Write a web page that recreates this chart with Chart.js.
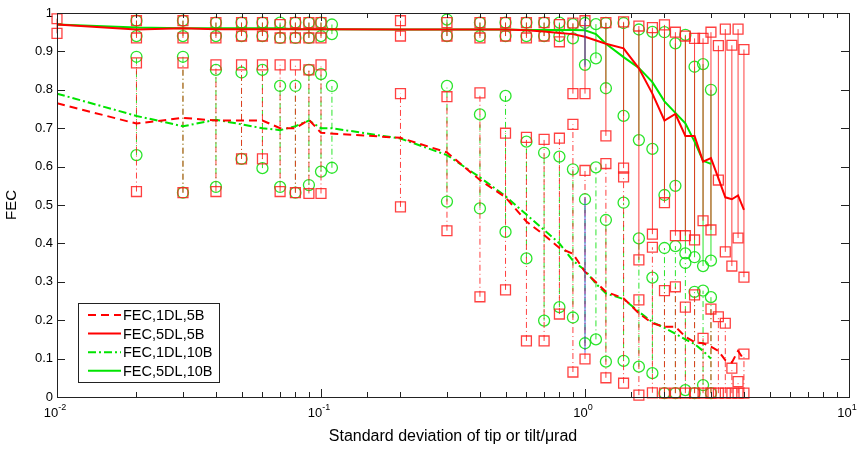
<!DOCTYPE html>
<html>
<head>
<meta charset="utf-8">
<title>FEC vs tip/tilt</title>
<script src="https://cdn.jsdelivr.net/npm/chart.js@4.4.0/dist/chart.umd.min.js"></script>
<style>
  html, body { margin: 0; padding: 0; background: #fff; }
  #wrap { width: 858px; height: 450px; }
</style>
</head>
<body>
<div id="wrap"><canvas id="fec-chart"></canvas></div>
<script>
// x positions (tip/tilt std, urad)
const redX = [0.01, 0.02, 0.03, 0.04, 0.05, 0.06, 0.07, 0.08, 0.09, 0.1,
  0.2, 0.3, 0.4, 0.5, 0.6, 0.7, 0.8, 0.9, 1.0,
  1.2, 1.4, 1.6, 1.8, 2.0, 2.2, 2.4, 2.6, 2.8, 3.0, 3.2, 3.4, 3.6, 3.8, 4.0];
const greenX = [0.01, 0.02, 0.03, 0.04, 0.05, 0.06, 0.07, 0.08, 0.09, 0.1, 0.11,
  0.2, 0.3, 0.4, 0.5, 0.6, 0.7, 0.8, 0.9, 1.0, 1.1,
  1.2, 1.4, 1.6, 1.8, 2.0, 2.2, 2.4, 2.6, 2.8, 3.0];

// mean FEC curves
const red1DLMean = [0.765, 0.712, 0.727, 0.72, 0.72, 0.72, 0.70, 0.70, 0.722, 0.688,
  0.675, 0.637, 0.565, 0.52, 0.457, 0.422, 0.388, 0.373, 0.326,
  0.274, 0.257, 0.218, 0.192, 0.183, 0.183, 0.157, 0.143, 0.14, 0.131, 0.12, 0.096, 0.09, 0.12, 0.097];
const red5DLMean = [0.97, 0.957, 0.96, 0.958, 0.958, 0.958, 0.958, 0.958, 0.958, 0.958,
  0.957, 0.957, 0.957, 0.957, 0.955, 0.952, 0.948, 0.945, 0.938,
  0.92, 0.908, 0.856, 0.79, 0.72, 0.737, 0.68, 0.68, 0.613, 0.622, 0.57, 0.52, 0.515, 0.525, 0.487];
const green1DLMean = [0.79, 0.732, 0.705, 0.722, 0.71, 0.70, 0.695, 0.705, 0.72, 0.70, 0.70,
  0.673, 0.63, 0.572, 0.523, 0.475, 0.435, 0.40, 0.355, 0.33, 0.295,
  0.27, 0.255, 0.222, 0.195, 0.18, 0.165, 0.15, 0.138, 0.12, 0.10];
const green5DLMean = [0.97, 0.962, 0.96, 0.96, 0.96, 0.96, 0.96, 0.958, 0.958, 0.958, 0.958,
  0.957, 0.957, 0.957, 0.957, 0.956, 0.956, 0.956, 0.956, 0.955, 0.945,
  0.92, 0.885, 0.857, 0.82, 0.77, 0.74, 0.713, 0.665, 0.615, 0.607];

// min / max bars
const red1DLMax = [null, 0.87, 0.87, 0.865, 0.865, 0.865, 0.865, 0.865, 0.852, 0.865,
  0.79, 0.782, 0.792, 0.687, 0.676, 0.671, 0.674, 0.71, 0.59,
  0.608, 0.573, 0.253, 0.39, 0.277, 0.287, 0.234, 0.266, 0.153, 0.229, 0.209, 0.192, 0.075, 0.04, 0.112];
const red1DLMin = [null, 0.535, 0.532, 0.535, 0.62, 0.62, 0.535, 0.532, 0.53, 0.53,
  0.495, 0.433, 0.261, 0.279, 0.146, 0.146, 0.216, 0.065, 0.099,
  0.05, 0.036, 0.005, 0.011, 0.01, 0.01, 0.01, 0.01, 0.01, 0.01, 0.01, 0.01, 0.01, 0.01, 0.01];
const red5DLMax = [0.985, 0.98, 0.98, 0.975, 0.975, 0.975, 0.97, 0.975, 0.975, 0.975,
  0.98, 0.975, 0.975, 0.975, 0.975, 0.975, 0.97, 0.974, 0.98,
  0.975, 0.977, 0.966, 0.962, 0.969, 0.95, 0.94, 0.934, 0.934, 0.95, 0.915, 0.958, 0.916, 0.958, 0.905];
const red5DLMin = [0.947, 0.935, 0.935, 0.935, 0.94, 0.94, 0.935, 0.935, 0.935, 0.935,
  0.94, 0.94, 0.935, 0.94, 0.935, 0.94, 0.925, 0.79, 0.79,
  0.68, 0.596, 0.357, 0.424, 0.506, 0.42, 0.42, 0.409, 0.459, 0.435, 0.565, 0.378, 0.341, 0.414, 0.312];
const green1DLMax = [null, 0.886, 0.886, 0.852, 0.845, 0.852, 0.81, 0.81, 0.852, 0.841, 0.81,
  null, 0.81, 0.736, 0.784, 0.665, 0.636, 0.626, 0.593, 0.515, 0.598,
  0.461, 0.506, 0.413, 0.311, 0.388, 0.393, 0.349, 0.274, 0.277, 0.26];
const green1DLMin = [null, 0.63, 0.532, 0.547, 0.62, 0.596, 0.547, 0.532, 0.552, 0.587, 0.597,
  null, 0.509, 0.491, 0.43, 0.361, 0.199, 0.234, 0.207, 0.14, 0.15,
  0.092, 0.094, 0.079, 0.062, 0.01, 0.01, 0.018, 0.01, 0.031, 0.01];
const green5DLMax = [null, 0.98, 0.98, 0.975, 0.975, 0.975, 0.975, 0.975, 0.975, 0.975, 0.97,
  null, 0.983, 0.975, 0.975, 0.975, 0.975, 0.975, 0.971, 0.974, 0.971,
  0.974, 0.974, 0.957, 0.951, 0.95, 0.921, 0.943, 0.86, 0.867, 0.80];
const green5DLMin = [null, 0.94, 0.94, 0.94, 0.94, 0.94, 0.935, 0.935, 0.935, 0.94, 0.945,
  null, 0.94, 0.94, 0.94, 0.94, 0.94, 0.94, 0.934, 0.865, 0.882,
  0.804, 0.732, 0.669, 0.646, 0.526, 0.55, 0.374, 0.364, 0.341, 0.355];

// stray blue segments at x = 1
const blueX = [1.0, 1.0];
const blueLo = [0.86, 0.115];
const blueHi = [0.985, 0.52];

// x tick labels (decades)
const xTickValues = [0.01, 0.1, 1, 10];
const xTickExponents = ['-2', '-1', '0', '1'];

const RED = '#ff0000';
const GREEN = '#00e400';
const FONT = '"Liberation Sans", Arial, sans-serif';

function pairs(xs, ys) {
    return xs.map((x, i) => ({ x: x, y: ys[i] }));
}

// vertical segments lo..hi, separated by gaps
function bars(xs, lo, hi) {
    const pts = [];
    xs.forEach((x, i) => {
        if (lo[i] == null) return;
        pts.push({ x: x, y: lo[i] }, { x: x, y: hi[i] }, { x: x, y: null });
    });
    return pts;
}

function isDecade(v) {
    const l = Math.log10(v);
    return Math.abs(l - Math.round(l)) < 1e-6;
}

function meanLine(label, data, color, dash) {
    return {
        label: label, data: data, borderColor: color, borderWidth: 2,
        borderDash: dash, pointRadius: 0, tension: 0, order: 1
    };
}

function barSet(data, color, dash, style, radius) {
    return {
        label: '', data: data, borderColor: color, borderWidth: 1, borderDash: dash,
        pointStyle: style, pointRadius: radius, pointBorderWidth: 1.3,
        pointBorderColor: color, pointBackgroundColor: 'rgba(0,0,0,0)',
        spanGaps: false, tension: 0, clip: 10, order: 2
    };
}

// MATLAB style box with inward ticks and 10^n labels
const frameAxes = {
    id: 'frameAxes',
    afterDatasetsDraw(chart) {
        const { ctx, chartArea: a, scales: { x, y } } = chart;
        ctx.save();
        ctx.strokeStyle = '#222';
        ctx.lineWidth = 1;
        ctx.beginPath();
        x.ticks.forEach(t => {
            const px = Math.round(x.getPixelForValue(t.value)) + 0.5;
            const len = isDecade(t.value) ? 8 : 5;
            ctx.moveTo(px, a.bottom); ctx.lineTo(px, a.bottom - len);
            ctx.moveTo(px, a.top); ctx.lineTo(px, a.top + len);
        });
        y.ticks.forEach(t => {
            const py = Math.round(y.getPixelForValue(t.value)) + 0.5;
            ctx.moveTo(a.left, py); ctx.lineTo(a.left + 8, py);
            ctx.moveTo(a.right, py); ctx.lineTo(a.right - 8, py);
        });
        ctx.stroke();
        ctx.strokeRect(Math.round(a.left) + 0.5, Math.round(a.top) + 0.5,
            Math.round(a.right - a.left), Math.round(a.bottom - a.top));

        ctx.fillStyle = '#000';
        ctx.textBaseline = 'alphabetic';
        xTickValues.forEach((v, i) => {
            const px = x.getPixelForValue(v);
            ctx.font = '13px ' + FONT;
            const wBase = ctx.measureText('10').width;
            ctx.font = '9px ' + FONT;
            const wExp = ctx.measureText(xTickExponents[i]).width;
            const left = px - (wBase + wExp) / 2 - 2;
            ctx.font = '13px ' + FONT;
            ctx.fillText('10', left, a.bottom + 20);
            ctx.font = '9px ' + FONT;
            ctx.fillText(xTickExponents[i], left + wBase, a.bottom + 13);
        });
        ctx.restore();
    }
};

// boxed legend in lower-left of the plot
const boxLegend = {
    id: 'boxLegend',
    afterDraw(chart) {
        const ctx = chart.ctx;
        const x0 = 78, y0 = 303, w = 141, h = 79;
        ctx.save();
        ctx.fillStyle = '#fff';
        ctx.fillRect(x0, y0, w, h);
        ctx.strokeStyle = '#222';
        ctx.lineWidth = 1;
        ctx.strokeRect(x0 + 0.5, y0 + 0.5, w, h);
        ctx.font = '14.5px ' + FONT;
        ctx.textBaseline = 'middle';
        chart.data.datasets.slice(0, 4).forEach((ds, i) => {
            const cy = y0 + 12 + i * 18.6;
            ctx.beginPath();
            ctx.setLineDash(ds.borderDash || []);
            ctx.strokeStyle = ds.borderColor;
            ctx.lineWidth = 2;
            ctx.moveTo(x0 + 10, cy);
            ctx.lineTo(x0 + 43, cy);
            ctx.stroke();
            ctx.setLineDash([]);
            ctx.fillStyle = '#000';
            ctx.fillText(ds.label, x0 + 45, cy + 1);
        });
        ctx.restore();
    }
};

const ctx = document.getElementById('fec-chart').getContext('2d');
new Chart(ctx, {
    type: 'line',
    data: {
        datasets: [
            meanLine('FEC,1DL,5B', pairs(redX, red1DLMean), RED, [8, 5]),
            meanLine('FEC,5DL,5B', pairs(redX, red5DLMean), RED, []),
            meanLine('FEC,1DL,10B', pairs(greenX, green1DLMean), GREEN, [8, 3, 2, 3]),
            meanLine('FEC,5DL,10B', pairs(greenX, green5DLMean), GREEN, []),
            barSet(bars(redX, red1DLMin, red1DLMax), 'rgba(255,30,30,0.85)', [6, 3, 1, 3], 'rect', 7),
            barSet(bars(redX, red5DLMin, red5DLMax), 'rgba(255,30,30,0.85)', [], 'rect', 7),
            barSet(bars(greenX, green1DLMin, green1DLMax), 'rgba(20,225,20,0.9)', [6, 3, 1, 3], 'circle', 5.5),
            barSet(bars(greenX, green5DLMin, green5DLMax), 'rgba(20,225,20,0.9)', [], 'circle', 5.5),
            {
                label: '', data: bars(blueX, blueLo, blueHi), borderColor: 'rgba(40,60,230,0.8)',
                borderWidth: 1, pointRadius: 0, spanGaps: false, order: 0
            }
        ]
    },
    options: {
        responsive: true,
        maintainAspectRatio: false,
        animation: false,
        devicePixelRatio: 1,
        layout: { padding: { top: 13, right: 9, left: 0, bottom: 0 } },
        plugins: {
            legend: { display: false },
            tooltip: { enabled: false }
        },
        scales: {
            x: {
                type: 'logarithmic',
                min: 0.01,
                max: 10,
                ticks: { display: false, autoSkip: false },
                grid: { display: false, drawTicks: false },
                border: { display: false },
                title: {
                    display: true,
                    text: 'Standard deviation of tip or tilt/\u03bcrad',
                    color: '#000',
                    font: { size: 16, family: FONT },
                    padding: { top: 0, bottom: 4 }
                },
                afterFit: s => { s.height = 53; }
            },
            y: {
                min: 0,
                max: 1,
                ticks: {
                    stepSize: 0.1, color: '#000', padding: 4,
                    font: { size: 13, family: FONT },
                    callback: v => String(Number(v.toFixed(1)))
                },
                grid: { display: false, drawTicks: false },
                border: { display: false },
                title: {
                    display: true,
                    text: 'FEC',
                    color: '#000',
                    font: { size: 15, family: FONT },
                    padding: { top: 3, bottom: 0 }
                },
                afterFit: s => { s.width = 57; }
            }
        }
    },
    plugins: [frameAxes, boxLegend]
});
</script>
</body>
</html>
